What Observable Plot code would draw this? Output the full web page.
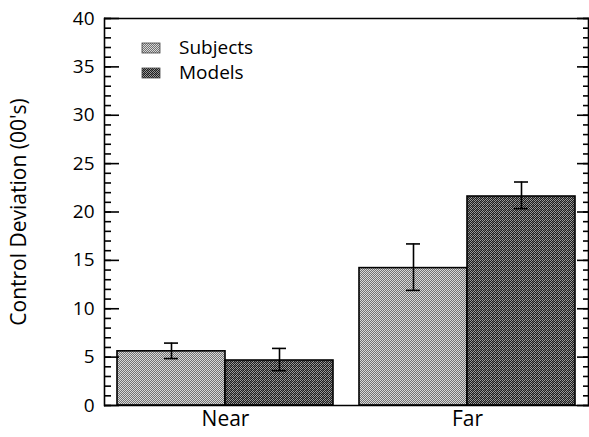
<!DOCTYPE html>
<html><head><meta charset="utf-8">
<script src="https://cdn.jsdelivr.net/npm/d3@7"></script>
<script src="https://cdn.jsdelivr.net/npm/@observablehq/plot@0.6"></script>
<style>
body{margin:0;background:#fff;}
#wrap{position:relative;width:589px;height:437px;}
#legend{position:absolute;left:0;top:0;}
#wrap g[aria-label="y-axis label"] text{font-size:21px;}
</style></head><body>
<svg width="0" height="0" style="position:absolute">
<defs>
<pattern id="pSubj" width="2" height="2" patternUnits="userSpaceOnUse">
<rect width="2" height="2" fill="#d8d8d8"/><rect width="1" height="1" fill="#727272"/><rect x="1" y="1" width="1" height="1" fill="#727272"/>
</pattern>
<pattern id="pMod" width="4" height="4" patternUnits="userSpaceOnUse">
<rect width="4" height="4" fill="#1e1e1e"/>
<rect x="1" y="0" width="1" height="1" fill="#9a9a9a"/><rect x="3" y="0" width="1" height="1" fill="#9a9a9a"/>
<rect x="0" y="1" width="1" height="1" fill="#9a9a9a"/><rect x="2" y="1" width="1" height="1" fill="#6a6a6a"/>
<rect x="1" y="2" width="1" height="1" fill="#6a6a6a"/><rect x="3" y="2" width="1" height="1" fill="#9a9a9a"/>
<rect x="0" y="3" width="1" height="1" fill="#9a9a9a"/><rect x="2" y="3" width="1" height="1" fill="#9a9a9a"/>
</pattern>
</defs>
</svg>
<div id="wrap"></div>
<script>
const groups = ["Near", "Near", "Far", "Far"];
const series = ["Subjects", "Models", "Subjects", "Models"];
const values = [5.6, 4.65, 14.2, 21.6];
const errLow = [4.85, 3.6, 11.9, 20.35];
const errHigh = [6.45, 5.9, 16.7, 23.1];
const groupOrder = ["Near", "Far"];
const seriesOrder = ["Subjects", "Models"];
const majorTicks = [0, 5, 10, 15, 20, 25, 30, 35, 40];
const minorTicks = d3.range(0, 41, 1);
const yLabel = "Control Deviation (00's)";

const data = groups.map((g, i) => ({group: g, series: series[i], value: values[i], lo: errLow[i], hi: errHigh[i]}));

const font = "'Open Sans', sans-serif";
const chart = Plot.plot({
  width: 589, height: 437,
  marginLeft: 103, marginRight: 1, marginTop: 18, marginBottom: 32,
  style: {fontFamily: font, fontSize: "19px", color: "#000", background: "transparent"},
  fx: {domain: groupOrder, padding: 0, label: null},
  x: {domain: seriesOrder, paddingInner: 0, paddingOuter: 0.117, axis: null},
  y: {domain: [0, 40], axis: null},
  color: {domain: seriesOrder, range: ["url(#pSubj)", "url(#pMod)"]},
  marks: [
    Plot.barY(data, {fx: "group", x: "series", y: "value", fill: "series", stroke: "#000", strokeWidth: 1.6}),
    Plot.ruleX(data, {fx: "group", x: "series", y1: "lo", y2: "hi", stroke: "#000", strokeWidth: 1.6}),
    Plot.tickY(data, {fx: "group", x: "series", y: "lo", insetLeft: 47, insetRight: 47, stroke: "#000", strokeWidth: 1.6}),
    Plot.tickY(data, {fx: "group", x: "series", y: "hi", insetLeft: 47, insetRight: 47, stroke: "#000", strokeWidth: 1.6}),
    Plot.ruleY([0, 40], {stroke: "#000", strokeWidth: 1.6}),
    Plot.frame({anchor: "left", facetAnchor: "left", stroke: "#000", strokeWidth: 1.6}),
    Plot.frame({anchor: "right", facetAnchor: "right", stroke: "#000", strokeWidth: 1.6}),
    Plot.axisY({anchor: "left", ticks: minorTicks, tickSize: 7, dx: 7, fill: "none", strokeWidth: 1.6, label: null}),
    Plot.axisY({anchor: "left", ticks: majorTicks, tickSize: 15, dx: 15, fill: "none", strokeWidth: 1.6, label: null}),
    Plot.axisY({anchor: "right", ticks: minorTicks, tickSize: 6, dx: -6, fill: "none", strokeWidth: 1.6, label: null}),
    Plot.axisY({anchor: "right", ticks: majorTicks, tickSize: 12, dx: -12, fill: "none", strokeWidth: 1.6, label: null}),
    Plot.axisY({anchor: "left", ticks: majorTicks, tickSize: 0, tickPadding: 10, fontSize: 19,
      label: yLabel, labelAnchor: "center", labelOffset: 93, labelArrow: "none"}),
    Plot.axisFx({anchor: "bottom", tickSize: 0, tickPadding: 6, fontSize: 21, label: null})
  ]
});
document.getElementById("wrap").appendChild(chart);

// legend overlay
const legendSvg = d3.select("#wrap").append("svg").attr("id", "legend")
  .attr("width", 300).attr("height", 100)
  .style("font-family", font).style("font-size", "19px");
seriesOrder.forEach((s, i) => {
  const g = legendSvg.append("g").attr("transform", `translate(142,${43 + i * 25})`);
  g.append("rect").attr("width", 18).attr("height", 10)
    .attr("fill", i === 0 ? "url(#pSubj)" : "url(#pMod)").attr("stroke", "#444").attr("stroke-width", 0.8);
  g.append("text").attr("x", 37).attr("y", 11).text(s);
});
</script>
</body></html>
